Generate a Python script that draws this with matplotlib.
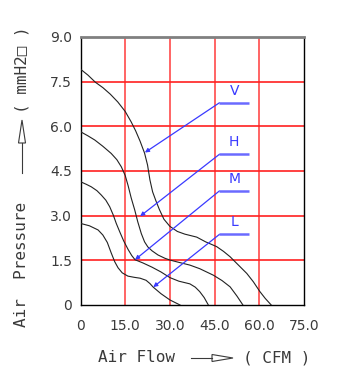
import matplotlib
matplotlib.use("Agg")
import matplotlib.pyplot as plt
from matplotlib.lines import Line2D
from matplotlib.patches import Polygon

# fan curves, air flow (CFM) vs air pressure (mmH2O)
v_flow = [0, 2.5, 5, 7.5, 10, 12.5, 15, 17, 18.5, 20, 21.5, 22.5, 23.3, 24.2, 25.3, 26.5,
          28, 30, 32.5, 35, 39, 42, 45.7, 48, 50.2, 53.5, 55.8, 58, 60.2, 62, 64]
v_pres = [7.92, 7.72, 7.48, 7.3, 7.08, 6.82, 6.5, 6.15, 5.85, 5.5, 5.1, 4.7, 4.2, 3.8, 3.5, 3.2,
          2.88, 2.64, 2.47, 2.38, 2.28, 2.12, 1.96, 1.8, 1.62, 1.29, 1.06, 0.78, 0.45, 0.22, 0]
h_flow = [0, 2.5, 4.8, 7.5, 10.3, 12.2, 13.7, 15, 16, 17, 18.2, 19.2, 20.4, 21.5, 22.6, 24,
          26, 28.3, 30, 32.7, 36.7, 40, 44.6, 47.5, 50.2, 52.5, 54.5]
h_pres = [5.82, 5.68, 5.54, 5.33, 5.09, 4.88, 4.64, 4.35, 4.0, 3.6, 3.19, 2.8, 2.4, 2.12, 1.95, 1.82,
          1.68, 1.57, 1.51, 1.44, 1.34, 1.22, 1.0, 0.82, 0.61, 0.3, 0]
m_flow = [0, 2, 3.6, 5.5, 7, 8.5, 9.8, 11, 12, 13.2, 14.5, 16, 17.2, 18.3, 21, 24, 27, 30,
          33, 36.7, 38.5, 40, 41.5, 42.9]
m_pres = [4.14, 4.05, 3.97, 3.84, 3.69, 3.52, 3.3, 3.02, 2.74, 2.45, 2.15, 1.86, 1.66, 1.52,
          1.41, 1.27, 1.11, 0.92, 0.8, 0.71, 0.6, 0.45, 0.25, 0]
l_flow = [0, 3, 5.9, 7.5, 9, 10.3, 11.5, 12.6, 14, 15.9, 18, 20, 22, 23.3, 24.4, 27, 30, 32, 33.4]
l_pres = [2.74, 2.66, 2.52, 2.35, 2.1, 1.75, 1.45, 1.25, 1.08, 0.97, 0.93, 0.9, 0.83, 0.72, 0.6,
          0.38, 0.17, 0.07, 0]

curve_names = ["V", "H", "M", "L"]
tip_flow = [21.6, 20.0, 18.3, 24.4]
tip_pres = [5.12, 2.98, 1.52, 0.6]
elbow_flow = [46.6, 46.6, 46.6, 46.6]
elbow_pres = [6.79, 5.06, 3.83, 2.37]
end_flow = [56.6, 56.6, 56.6, 56.6]

xticks = [0, 15, 30, 45, 60, 75]
xtick_labels = ["0", "15.0", "30.0", "45.0", "60.0", "75.0"]
yticks = [0, 1.5, 3, 4.5, 6, 7.5, 9]
ytick_labels = ["0", "1.5", "3.0", "4.5", "6.0", "7.5", "9.0"]

W, H = 347, 373
fig = plt.figure(figsize=(W / 100, H / 100), dpi=100)
ax = fig.add_axes([80.5 / W, 1 - 305 / H, (304 - 80.5) / W, (305 - 37) / H])

txt = "#3a3a3a"

for x in xticks[1:-1]:
    ax.axvline(x, color="#ff6464", lw=1.4, zorder=1)
for y in yticks[1:-1]:
    ax.axhline(y, color="#ff2020", lw=1.2, zorder=1)

for fl, pr in [(v_flow, v_pres), (h_flow, h_pres), (m_flow, m_pres), (l_flow, l_pres)]:
    ax.plot(fl, pr, color="#222222", lw=0.8, zorder=3)

for i, name in enumerate(curve_names):
    ax.annotate("", xy=(tip_flow[i], tip_pres[i]), xytext=(elbow_flow[i], elbow_pres[i]),
                arrowprops=dict(arrowstyle="-|>", color="#3a3aff", lw=0.9,
                                mutation_scale=6, shrinkA=0, shrinkB=0), zorder=4)
    ax.plot([elbow_flow[i], end_flow[i]], [elbow_pres[i], elbow_pres[i]],
            color="#6a6aff", lw=1.8, solid_capstyle="butt", zorder=4)
    ax.text((elbow_flow[i] + end_flow[i]) / 2, elbow_pres[i] + 0.17, name,
            color="#3a3aff", fontsize=10, ha="center", va="bottom", zorder=4)

ax.set_xlim(0, 75)
ax.set_ylim(0, 9)
ax.set_xticks(xticks)
ax.set_xticklabels(xtick_labels)
ax.set_yticks(yticks)
ax.set_yticklabels(ytick_labels)
ax.tick_params(length=0, labelsize=10, labelcolor=txt)
ax.tick_params(axis="x", pad=10)
ax.tick_params(axis="y", pad=6)
for s in ["left", "right", "bottom"]:
    ax.spines[s].set_color("black")
    ax.spines[s].set_linewidth(1.0)
ax.spines["top"].set_color("#808080")
ax.spines["top"].set_linewidth(2.0)

# axis titles with hollow arrows (pixel coords converted to figure fraction)
def fx(px):
    return px / W

def fy(py):
    return 1 - py / H

mono = "DejaVu Sans Mono"
fig.text(fx(98), fy(358), "Air Flow", fontsize=11.5, family=mono, color=txt, ha="left", va="center")
fig.text(fx(243), fy(358), "( CFM )", fontsize=11.5, family=mono, color=txt, ha="left", va="center")
fig.add_artist(Line2D([fx(191), fx(212)], [fy(358), fy(358)], color=txt, lw=0.8))
fig.add_artist(Polygon([[fx(212), fy(354.5)], [fx(212), fy(361.5)], [fx(233), fy(358)]],
                       closed=True, fill=False, edgecolor=txt, lw=0.8))

fig.text(fx(22), fy(327), "Air  Pressure", fontsize=11.5, family=mono, color=txt, rotation=90,
         ha="center", va="bottom")
fig.text(fx(22), fy(113), "( mmH2\u25a1 )", fontsize=11.5, family=mono, color=txt, rotation=90,
         ha="center", va="bottom")
fig.add_artist(Line2D([fx(22), fx(22)], [fy(173), fy(143)], color=txt, lw=0.8))
fig.add_artist(Polygon([[fx(18.5), fy(143)], [fx(25.5), fy(143)], [fx(22), fy(120)]],
                       closed=True, fill=False, edgecolor=txt, lw=0.8))

fig.savefig("out.png", dpi=100)
